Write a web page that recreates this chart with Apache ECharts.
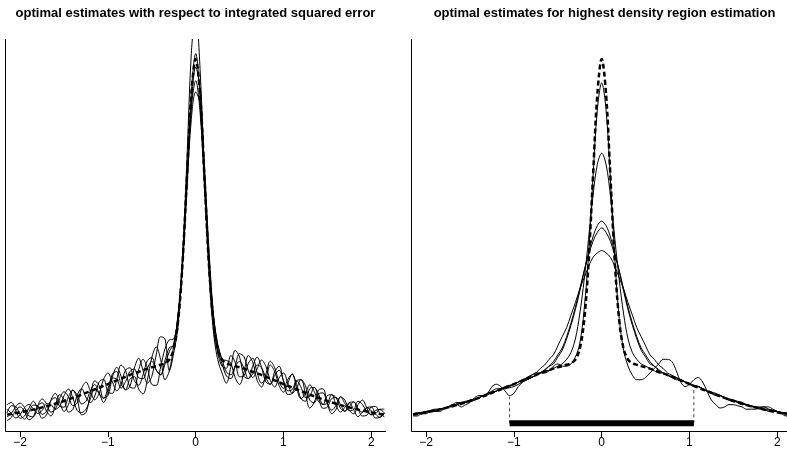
<!DOCTYPE html>
<html>
<head>
<meta charset="utf-8">
<script src="https://cdn.jsdelivr.net/npm/echarts@6/dist/echarts.min.js"></script>
<style>
html,body{margin:0;padding:0;background:#fff;}
#chart{width:787px;height:462px;}
</style>
</head>
<body>
<div id="chart"></div>
<script>
// x grid (shared by all curves)
const xs = [-2.15,-2.10,-2.05,-2.00,-1.95,-1.90,-1.85,-1.80,-1.75,-1.70,
 -1.65,-1.60,-1.55,-1.50,-1.45,-1.40,-1.35,-1.30,-1.25,-1.20,
 -1.15,-1.10,-1.05,-1.00,-0.95,-0.90,-0.85,-0.80,-0.75,-0.70,
 -0.65,-0.60,-0.55,-0.50,-0.45,-0.40,-0.35,-0.30,-0.25,-0.20,
 -0.15,-0.10,-0.05,0,0.05,0.10,0.15,0.20,0.25,0.30,
 0.35,0.40,0.45,0.50,0.55,0.60,0.65,0.70,0.75,0.80,
 0.85,0.90,0.95,1.00,1.05,1.10,1.15,1.20,1.25,1.30,
 1.35,1.40,1.45,1.50,1.55,1.60,1.65,1.70,1.75,1.80,
 1.85,1.90,1.95,2.00,2.05,2.10,2.15];

// true density (dashed)
const trueDensity = [.026,.029,.033,.036,.040,.044,.048,.053,.058,.063,
 .068,.074,.080,.086,.093,.100,.107,.114,.122,.130,
 .137,.145,.153,.161,.169,.177,.185,.193,.201,.208,
 .215,.222,.229,.235,.240,.246,.253,.269,.316,.441,
 .695,1.071,1.439,1.596,1.439,1.071,.695,.441,.316,.269,
 .253,.246,.240,.235,.229,.222,.215,.208,.201,.193,
 .185,.177,.169,.161,.153,.145,.137,.130,.122,.114,
 .107,.100,.093,.086,.080,.074,.068,.063,.058,.053,
 .048,.044,.040,.036,.033,.029,.026];

// left panel: ISE-optimal estimates
const ise1 = [.07,.08,.045,.01,.02,.055,.085,.05,.01,.025,
 .09,.12,.08,.04,.07,.135,.095,.025,.035,.115,
 .175,.155,.10,.11,.19,.235,.195,.135,.15,.23,
 .275,.22,.165,.195,.29,.37,.36,.22,.30,.42,
 .72,1.15,1.62,1.80,1.55,1.08,.66,.40,.27,.21,
 .165,.235,.31,.28,.195,.185,.24,.28,.235,.17,
 .16,.215,.24,.175,.115,.12,.175,.18,.12,.055,
 .08,.135,.14,.075,.03,.05,.105,.09,.045,.03,
 .07,.09,.055,.025,.03,.05,.05];
const ise2 = [.016,.031,.062,.077,.057,.02,.017,.065,.095,.075,
 .037,.05,.097,.127,.105,.066,.078,.141,.17,.13,
 .091,.12,.182,.21,.171,.131,.16,.222,.233,.177,
 .156,.202,.265,.278,.223,.202,.265,.322,.33,.45,
 .68,1.05,1.45,1.62,1.42,1.04,.69,.45,.31,.25,
 .197,.185,.24,.295,.282,.219,.19,.228,.267,.239,
 .177,.148,.188,.21,.165,.12,.142,.181,.153,.09,
 .078,.117,.122,.076,.046,.067,.105,.075,.044,.048,
 .085,.071,.04,.026,.045,.048,.033];
const ise3 = [.05,.031,.011,.026,.057,.071,.051,.031,.044,.075,
 .071,.05,.063,.11,.139,.10,.044,.035,.05,.096,
 .142,.119,.08,.125,.205,.216,.16,.137,.182,.194,
 .139,.117,.18,.278,.325,.27,.18,.22,.33,.46,
 .70,1.05,1.40,1.56,1.46,1.10,.72,.44,.30,.24,
 .231,.287,.257,.193,.197,.253,.275,.211,.165,.188,
 .245,.216,.154,.125,.165,.205,.159,.096,.085,.141,
 .146,.10,.054,.059,.097,.101,.071,.041,.061,.082,
 .051,.02,.023,.06,.062,.031,.016];
const ise4 = [.033,.065,.062,.026,.006,.037,.068,.065,.027,.041,
 .088,.101,.063,.059,.105,.134,.112,.073,.085,.13,
 .159,.12,.097,.142,.188,.182,.143,.171,.216,.228,
 .189,.185,.231,.261,.223,.202,.248,.305,.34,.47,
 .72,1.06,1.38,1.50,1.36,1.04,.71,.47,.34,.27,
 .214,.202,.24,.261,.231,.185,.207,.245,.233,.188,
 .16,.199,.222,.176,.131,.137,.176,.147,.102,.107,
 .146,.117,.071,.076,.114,.101,.054,.041,.078,.082,
 .051,.037,.057,.06,.028,.014,.033];
const ise5 = [.00,.014,.045,.06,.04,.003,.017,.065,.078,.041,
 .02,.067,.114,.093,.037,.049,.112,.141,.102,.079,
 .108,.171,.182,.125,.12,.182,.245,.222,.148,.143,
 .224,.27,.231,.159,.155,.236,.316,.356,.36,.47,
 .69,1.02,1.33,1.45,1.40,1.12,.76,.48,.33,.27,
 .265,.253,.189,.159,.214,.287,.257,.177,.148,.205,
 .262,.233,.171,.142,.182,.205,.142,.096,.119,.158,
 .129,.083,.071,.11,.114,.067,.037,.058,.078,.048,
 .017,.037,.057,.043,.011,.014,.033];

// right panel: HDR-optimal estimates
const hdr1 = [.02,.02,.03,.03,.04,.04,.04,.05,.06,.07,
 .07,.06,.07,.08,.10,.11,.11,.12,.15,.16,
 .15,.13,.11,.12,.15,.17,.19,.20,.21,.21,
 .21,.22,.24,.25,.24,.24,.25,.28,.34,.49,
 .73,1.07,1.37,1.49,1.37,1.06,.71,.45,.31,.24,
 .20,.18,.18,.19,.21,.23,.25,.27,.27,.26,
 .22,.17,.15,.16,.18,.19,.17,.13,.09,.07,
 .055,.06,.07,.07,.065,.06,.05,.05,.05,.055,
 .06,.06,.05,.04,.03,.02,.02];
const hdr2 = [.03,.03,.03,.04,.04,.04,.05,.05,.06,.06,
 .075,.08,.08,.085,.09,.10,.11,.12,.13,.14,
 .14,.14,.145,.15,.16,.17,.18,.19,.20,.21,
 .22,.22,.23,.24,.25,.27,.30,.36,.47,.62,
 .80,.99,1.13,1.18,1.13,.99,.80,.62,.47,.36,
 .30,.27,.25,.24,.23,.22,.21,.21,.20,.19,
 .18,.18,.17,.16,.15,.15,.14,.13,.12,.11,
 .11,.10,.09,.09,.08,.07,.07,.06,.06,.05,
 .05,.04,.04,.04,.03,.03,.03];
const hdr3 = [.025,.03,.03,.035,.04,.045,.05,.055,.06,.07,
 .08,.075,.08,.085,.09,.10,.11,.115,.12,.13,
 .14,.145,.15,.16,.17,.175,.18,.19,.20,.21,
 .22,.24,.25,.28,.31,.36,.42,.49,.57,.66,
 .74,.81,.86,.88,.86,.81,.74,.66,.57,.49,
 .42,.36,.31,.28,.25,.24,.22,.21,.20,.19,
 .185,.18,.17,.16,.155,.15,.14,.13,.12,.115,
 .11,.10,.09,.085,.08,.075,.07,.065,.06,.06,
 .06,.05,.045,.04,.035,.03,.025];
const hdr4 = [.03,.03,.035,.04,.04,.045,.05,.055,.06,.065,
 .07,.075,.08,.09,.095,.10,.11,.115,.125,.13,
 .14,.145,.155,.16,.17,.18,.185,.19,.20,.21,
 .225,.24,.26,.29,.32,.37,.43,.50,.58,.66,
 .73,.79,.83,.85,.83,.79,.73,.66,.58,.50,
 .43,.37,.32,.29,.26,.24,.225,.21,.20,.195,
 .19,.18,.17,.165,.155,.15,.14,.13,.125,.115,
 .11,.10,.095,.09,.08,.075,.07,.065,.06,.055,
 .05,.045,.04,.04,.035,.03,.03];
const hdr5 = [.03,.035,.035,.04,.045,.05,.05,.055,.06,.065,
 .07,.08,.085,.09,.095,.10,.11,.12,.125,.13,
 .14,.15,.155,.16,.17,.18,.19,.20,.21,.23,
 .245,.27,.29,.33,.37,.41,.465,.52,.58,.63,
 .68,.72,.74,.75,.74,.72,.68,.63,.58,.52,
 .465,.41,.37,.33,.29,.27,.245,.23,.21,.20,
 .19,.18,.17,.16,.155,.15,.14,.13,.125,.12,
 .11,.10,.095,.09,.085,.08,.07,.065,.06,.055,
 .05,.05,.045,.04,.035,.035,.03];

// highest density region
const hdrInterval = [-1.05, 1.05];
const hdrBarLevel = -0.012;
const hdrGuideTops = [0.105, 0.148];

const xTicks = [-2, -1, 0, 1, 2];
const titles = ['optimal estimates with respect to integrated squared error',
                'optimal estimates for highest density region estimation'];

const pairs = ys => xs.map((x, i) => [x, ys[i]]);
const FONT = '"Liberation Sans", Arial, Helvetica, sans-serif';

function xAxisCfg(gi) {
  return {
    type: 'value', gridIndex: gi, min: -2.165, max: 2.165,
    axisLine: { show: true, onZero: false, lineStyle: { color: '#000', width: 1 } },
    axisTick: { show: true, inside: false, length: 6, customValues: xTicks, lineStyle: { color: '#000', width: 1 } },
    axisLabel: { show: true, margin: 6, customValues: xTicks, color: '#000', fontSize: 12, fontFamily: FONT,
      formatter: v => (v < 0 ? '\u2212' + Math.abs(v) : String(v)) },
    splitLine: { show: false }
  };
}
function yAxisCfg(gi) {
  return {
    type: 'value', gridIndex: gi, min: -0.0463, max: 1.682, position: 'left',
    axisLine: { show: true, onZero: false, lineStyle: { color: '#000', width: 1 } },
    axisTick: { show: false }, axisLabel: { show: false }, splitLine: { show: false }
  };
}
function solid(ys, gi) {
  return { type: 'line', xAxisIndex: gi, yAxisIndex: gi, data: pairs(ys), showSymbol: false, smooth: 0.35,
    lineStyle: { color: '#000', width: 1 }, silent: true, z: 2 };
}
function dashed(ys, gi) {
  return { type: 'line', xAxisIndex: gi, yAxisIndex: gi, data: pairs(ys), showSymbol: false, smooth: 0.35,
    lineStyle: { color: '#000', width: 2.5, type: [5, 3] }, silent: true, z: 3 };
}

const series = [];
[ise1, ise2, ise3, ise4, ise5].forEach(s => series.push(solid(s, 0)));
series.push(dashed(trueDensity, 0));
[hdr1, hdr2, hdr3, hdr4, hdr5].forEach(s => series.push(solid(s, 1)));
series.push(dashed(trueDensity, 1));
series.push({ type: 'line', xAxisIndex: 1, yAxisIndex: 1, showSymbol: false, silent: true, z: 4,
  data: [[hdrInterval[0], hdrBarLevel], [hdrInterval[1], hdrBarLevel]],
  lineStyle: { color: '#000', width: 6, cap: 'butt' } });
hdrInterval.forEach((x, k) => series.push({ type: 'line', xAxisIndex: 1, yAxisIndex: 1, showSymbol: false, silent: true, z: 1,
  data: [[x, hdrBarLevel], [x, hdrGuideTops[k]]],
  lineStyle: { color: '#444', width: 1, type: [3, 3] } }));

const chart = echarts.init(document.getElementById('chart'), null, { renderer: 'canvas' });
chart.setOption({
  animation: false,
  backgroundColor: '#fff',
  grid: [
    { left: 5.7, top: 39.5, width: 380, height: 391.5, outerBoundsMode: 'none', containLabel: false },
    { left: 411.7, top: 39.5, width: 380, height: 391.5, outerBoundsMode: 'none', containLabel: false }
  ],
  xAxis: [xAxisCfg(0), xAxisCfg(1)],
  yAxis: [yAxisCfg(0), yAxisCfg(1)],
  graphic: [
    { type: 'text', x: 195.5, y: 13, style: { text: titles[0], align: 'center', verticalAlign: 'middle',
      font: 'bold 13px ' + FONT, fill: '#000' } },
    { type: 'text', x: 604.5, y: 13, style: { text: titles[1], align: 'center', verticalAlign: 'middle',
      font: 'bold 13px ' + FONT, fill: '#000' } }
  ],
  series: series
});
</script>
</body>
</html>
